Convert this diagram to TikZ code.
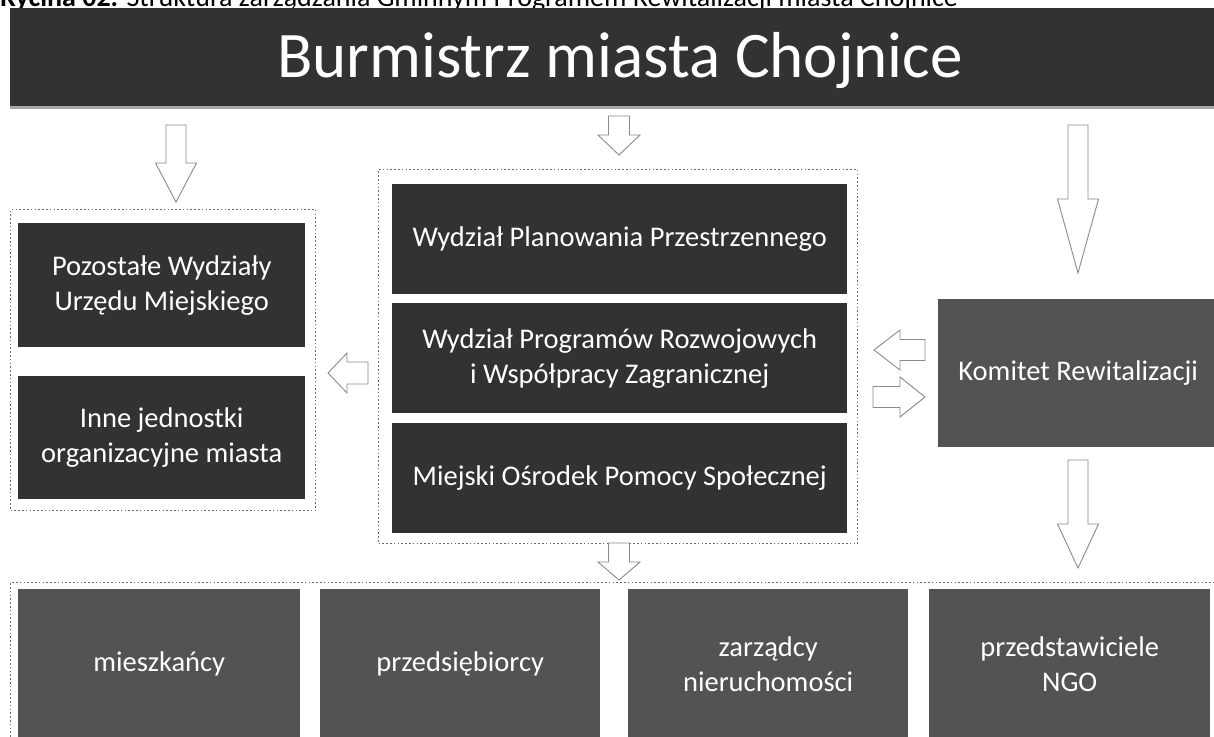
\documentclass[tikz,border=0pt]{standalone}
\usepackage{fontspec}
\setmainfont{Carlito}
\definecolor{boxdark}{HTML}{323232}
\definecolor{boxgrey}{HTML}{535353}
\definecolor{arrowline}{HTML}{8A8A8A}
\definecolor{frameline}{HTML}{6A6A6A}
\newcommand\BArrowDown[5]{% tip, length, shaft half, head half, head length
  \draw[barrow] (#1) -- ++(-#4,-#5) -- ++({#4-#3},0) -- ++(0,{-(#2-#5)}) -- ++({2*#3},0) -- ++(0,{#2-#5}) -- ++({#4-#3},0) -- cycle;}
\newcommand\BArrowLeft[5]{%
  \draw[barrow] (#1) -- ++(#5,-#4) -- ++(0,{#4-#3}) -- ++({#2-#5},0) -- ++(0,{2*#3}) -- ++({-(#2-#5)},0) -- ++(0,{#4-#3}) -- cycle;}
\newcommand\BArrowRight[5]{%
  \draw[barrow] (#1) -- ++(-#5,-#4) -- ++(0,{#4-#3}) -- ++({-(#2-#5)},0) -- ++(0,{2*#3}) -- ++({#2-#5},0) -- ++(0,{#4-#3}) -- cycle;}
\begin{document}
\begin{tikzpicture}[x=1pt,y=-1pt,
  darkbox/.style={fill=boxdark, text=white, inner sep=0pt, align=center, anchor=north west, font=\fontsize{28.5}{35}\selectfont},
  greybox/.style={fill=boxgrey, text=white, inner sep=0pt, align=center, anchor=north west, font=\fontsize{28.5}{35}\selectfont},
  frame/.style={draw=frameline, line width=1.3pt, dash pattern=on 1.6pt off 2.2pt, inner sep=0pt, anchor=north west},
  barrow/.style={draw=arrowline, fill=white, line width=0.9pt, line join=miter}]
\clip (0,0) rectangle (1214,736);
\fill[white] (0,0) rectangle (1214,736);
% caption (cut at top)
\node[anchor=base west, inner sep=0pt, font=\fontsize{28}{28}\selectfont] (cap) at (0,6) {\textbf{Rycina 02.} Struktura zarządzania Gminnym Programem Rewitalizacji miasta Chojnice};
% top bar
\fill[black!35] (10,106) rectangle (1230,109);
\node[fill=boxdark, minimum width=1220pt, minimum height=98pt, inner sep=0pt, anchor=north west] (bar) at (10,8) {};
\node[text=white, font=\fontsize{65}{65}\selectfont, inner sep=0pt] (burm) at (620,61) {Burmistrz miasta Chojnice};
% frames
\node[frame, minimum width=305pt, minimum height=301pt] (fl) at (10,209) {};
\node[frame, minimum width=479pt, minimum height=374pt] (fm) at (378,169) {};
\node[frame, minimum width=1220pt, minimum height=170pt] (fb) at (10,582) {};
% left boxes
\node[darkbox, minimum width=287pt, minimum height=124pt] (pw) at (18,223) {Pozostałe Wydziały\\Urzędu Miejskiego};
\node[darkbox, minimum width=287pt, minimum height=123pt] (ij) at (18,376) {Inne jednostki\\organizacyjne miasta};
% middle boxes
\node[darkbox, minimum width=455pt, minimum height=110pt] (wpp) at (392,184) {Wydział Planowania Przestrzennego};
\node[darkbox, minimum width=455pt, minimum height=110pt] (wpr) at (392,303) {Wydział Programów Rozwojowych\\i Współpracy Zagranicznej};
\node[darkbox, minimum width=455pt, minimum height=110pt] (mops) at (392,423) {Miejski Ośrodek Pomocy Społecznej};
% komitet
\node[greybox, minimum width=280pt, minimum height=148pt] (kr) at (938,299) {Komitet Rewitalizacji};
% bottom boxes
\node[greybox, minimum width=282pt, minimum height=150pt] (m) at (18,589) {mieszkańcy};
\node[greybox, minimum width=280pt, minimum height=150pt] (p) at (320,589) {przedsiębiorcy};
\node[greybox, minimum width=280pt, minimum height=150pt] (z) at (628,589) {zarządcy\\nieruchomości};
\node[greybox, minimum width=281pt, minimum height=150pt] (ngo) at (929,589) {przedstawiciele\\NGO};
% arrows
\coordinate (a1) at (176,202);
\coordinate (a2) at (619,155);
\coordinate (a3) at (1078,273);
\coordinate (a4) at (1078,568);
\coordinate (a5) at (619,580);
\coordinate (l1) at (328,373);
\coordinate (l2) at (874,350);
\coordinate (r1) at (925,397);
\BArrowDown{a1}{77}{10}{20.5}{39}
\BArrowDown{a2}{39}{10.5}{21}{20}
\BArrowDown{a3}{148}{10}{20.5}{74}
\BArrowDown{a4}{108}{10}{20.5}{44}
\BArrowDown{a5}{37}{10.5}{21}{18}
\BArrowLeft{l1}{40}{11}{20}{19}
\BArrowLeft{l2}{51}{10.5}{20}{26}
\BArrowRight{r1}{52}{10.5}{20}{25}
\end{tikzpicture}
\end{document}
